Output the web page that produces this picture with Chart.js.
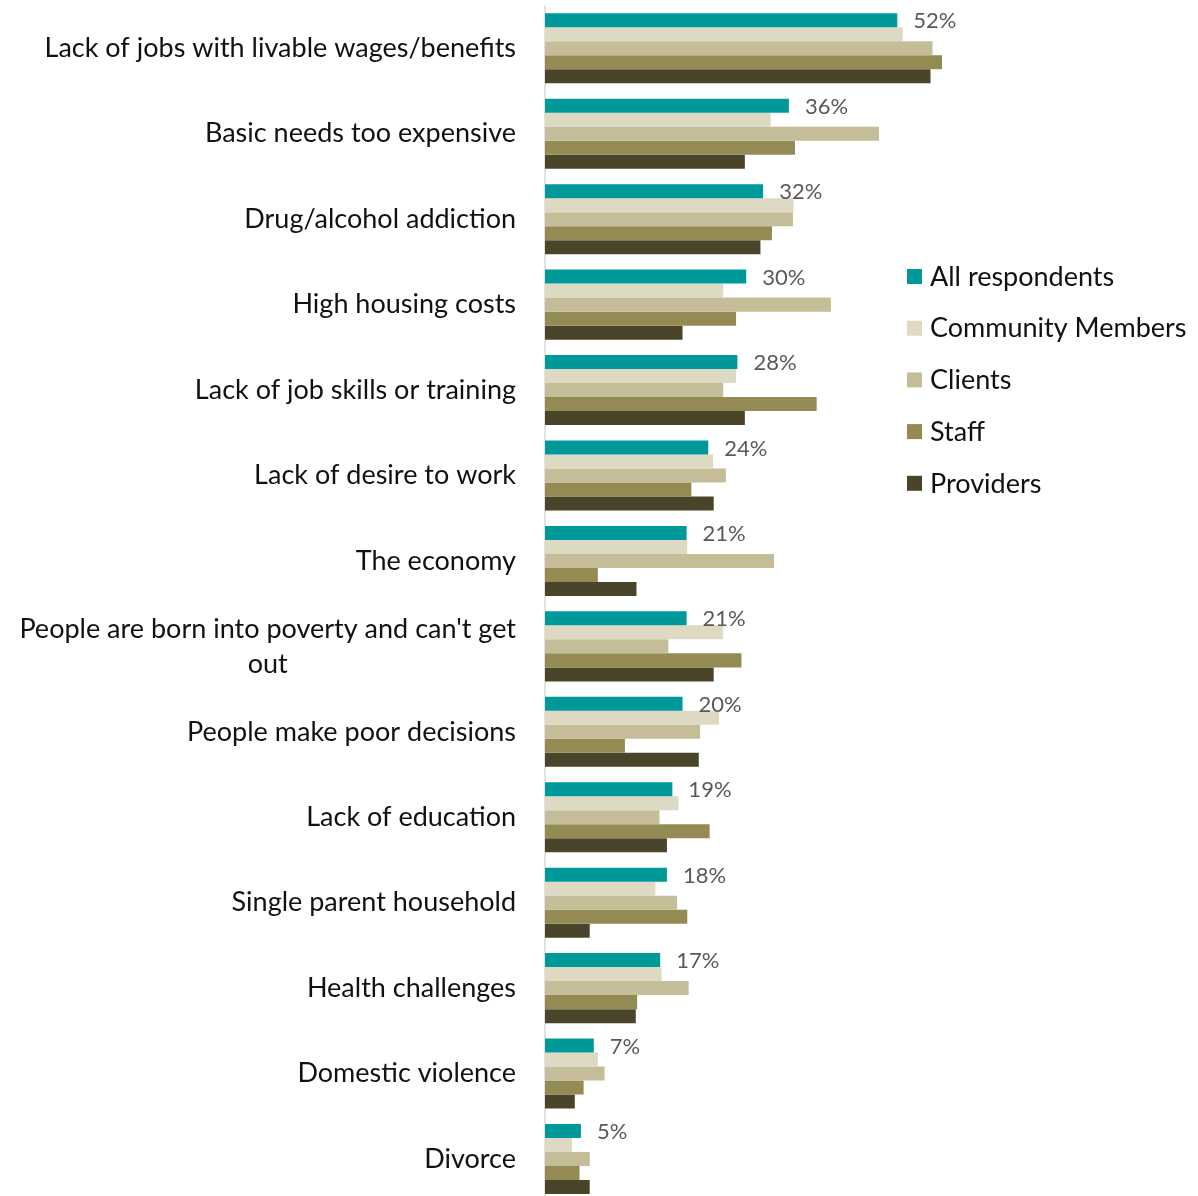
<!DOCTYPE html>
<html>
<head>
<meta charset="utf-8">
<script src="https://cdn.jsdelivr.net/npm/chart.js@4.4.0/dist/chart.umd.min.js"></script>
<style>
html, body { margin: 0; padding: 0; background: #fff; overflow: hidden; }
#wrap { width: 1198px; height: 1196px; overflow: hidden; }
</style>
</head>
<body>
<div id="wrap"><canvas id="chart" width="1198" height="1206"></canvas></div>
<script>
// Categories (multi-line labels as arrays)
const categories = [
    'Lack of jobs with livable wages/benefits',
    'Basic needs too expensive',
    'Drug/alcohol addiction',
    'High housing costs',
    'Lack of job skills or training',
    'Lack of desire to work',
    'The economy',
    ["People are born into poverty and can't get", 'out'],
    'People make poor decisions',
    'Lack of education',
    'Single parent household',
    'Health challenges',
    'Domestic violence',
    'Divorce'
];

// Series values (percent)
const allRespondents   = [52.0, 36.0, 32.2, 29.7, 28.4, 24.1, 20.9, 20.9, 20.3, 18.8, 18.0, 17.0, 7.2, 5.3];
const communityMembers = [52.8, 33.3, 36.7, 26.3, 28.2, 24.8, 21.0, 26.3, 25.7, 19.7, 16.3, 17.2, 7.8, 4.0];
const clients          = [57.2, 49.3, 36.6, 42.2, 26.3, 26.7, 33.8, 18.2, 22.9, 16.9, 19.5, 21.2, 8.8, 6.6];
const staff            = [58.6, 36.9, 33.5, 28.2, 40.1, 21.6, 7.8, 29.0, 11.8, 24.3, 21.0, 13.6, 5.7, 5.1];
const providers        = [56.9, 29.5, 31.8, 20.3, 29.5, 24.9, 13.5, 24.9, 22.7, 18.0, 6.6, 13.4, 4.4, 6.6];

const seriesNames = ['All respondents', 'Community Members', 'Clients', 'Staff', 'Providers'];
const seriesColors = ['#009999', '#ddd9c3', '#c4bd97', '#948a54', '#4a452a'];

const FONT = 'Lato, "Open Sans", sans-serif';

// Draw axis line, category labels, value labels and legend
const decorations = {
    id: 'decorations',
    beforeDatasetsDraw(chart) {
        const ctx = chart.ctx;
        const x0 = chart.scales.x.getPixelForValue(0);
        ctx.save();
        ctx.strokeStyle = '#d9d9d9';
        ctx.lineWidth = 1.5;
        ctx.beginPath();
        ctx.moveTo(x0, chart.chartArea.top);
        ctx.lineTo(x0, chart.chartArea.bottom);
        ctx.stroke();
        ctx.restore();
    },
    afterDraw(chart) {
        const ctx = chart.ctx;
        const xs = chart.scales.x;
        const ys = chart.scales.y;
        const x0 = xs.getPixelForValue(0);
        ctx.save();

        // category labels
        ctx.font = '27px ' + FONT;
        ctx.fillStyle = '#111';
        ctx.textBaseline = 'middle';
        const right = x0 - 29;
        categories.forEach((cat, i) => {
            const y = ys.getPixelForTick(i);
            if (Array.isArray(cat)) {
                const widths = cat.map(t => ctx.measureText(t).width);
                const cx = right - Math.max(...widths) / 2;
                const lh = 35;
                ctx.textAlign = 'center';
                cat.forEach((t, j) => {
                    ctx.fillText(t, cx, y + (j - (cat.length - 1) / 2) * lh);
                });
            } else {
                ctx.textAlign = 'right';
                ctx.fillText(cat, right, y);
            }
        });

        // value labels for All respondents
        ctx.font = '22px ' + FONT;
        ctx.fillStyle = '#595959';
        ctx.textAlign = 'left';
        chart.getDatasetMeta(0).data.forEach((bar, i) => {
            ctx.fillText(Math.round(allRespondents[i]) + '%', bar.x + 16, bar.y + 1);
        });

        // legend
        ctx.font = '27px ' + FONT;
        seriesNames.forEach((name, i) => {
            const y = 277 + i * 51.7;
            ctx.fillStyle = seriesColors[i];
            ctx.fillRect(907, y - 8, 15, 15);
            ctx.fillStyle = '#111';
            ctx.fillText(name, 930, y);
        });

        ctx.restore();
    }
};

const seriesData = [allRespondents, communityMembers, clients, staff, providers];

new Chart(document.getElementById('chart'), {
    type: 'bar',
    data: {
        labels: categories,
        datasets: seriesData.map((d, i) => ({
            label: seriesNames[i],
            data: d,
            backgroundColor: seriesColors[i],
            borderWidth: 0,
            categoryPercentage: 0.82,
            barPercentage: 1.0
        }))
    },
    options: {
        indexAxis: 'y',
        responsive: false,
        animation: false,
        layout: {
            padding: { left: 545, right: 43.25, top: 5.6, bottom: 4.3 }
        },
        scales: {
            x: { display: false, min: 0, max: 90 },
            y: { display: false }
        },
        plugins: {
            legend: { display: false },
            tooltip: { enabled: false }
        }
    },
    plugins: [decorations]
});
</script>
</body>
</html>
